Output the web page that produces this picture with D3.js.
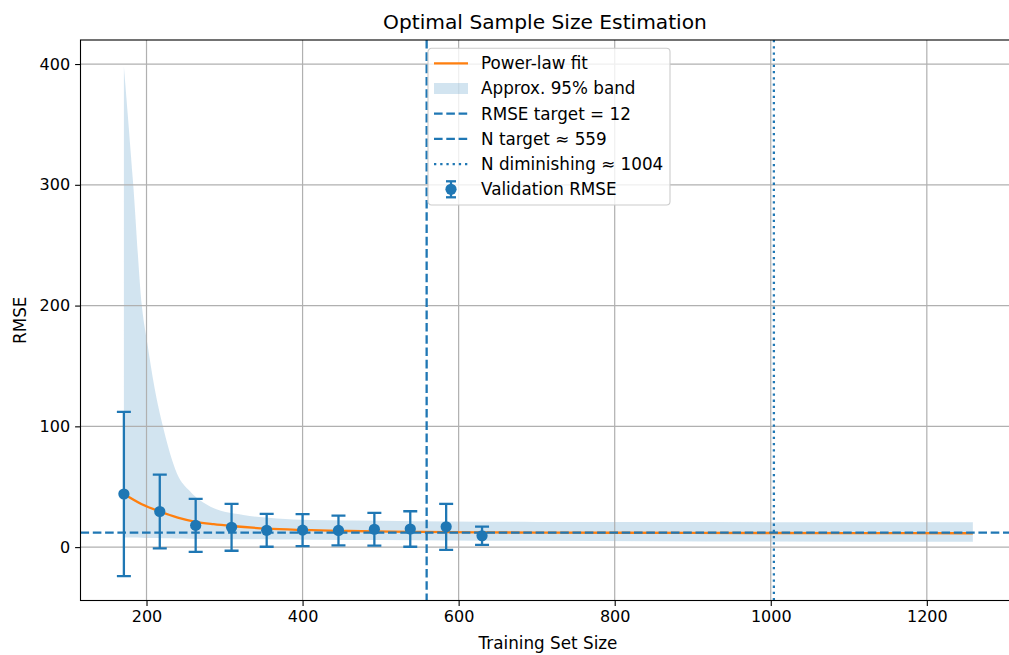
<!DOCTYPE html>
<html>
<head>
<meta charset="utf-8">
<script src="https://cdn.jsdelivr.net/npm/d3@7"></script>
<style>
  body { margin: 0; background: #fff; }
  svg { font-family: "DejaVu Sans", sans-serif; }
</style>
</head>
<body>
<svg width="1009" height="655"></svg>
<script>
// validation points
const sizes = [171, 217, 263, 309, 354, 400, 446, 492, 538, 584, 630]
const rmse = [44, 29.5, 18, 16.4, 13.9, 14.1, 13.8, 14.8, 15, 16.8, 9.4]
const rmseErr = [68, 30.5, 22, 19.4, 13.6, 13.3, 12.3, 13.5, 14.7, 19, 7.5]

// power-law fit
const fitX = [171, 194, 217, 240, 263, 286, 309, 354, 400, 446, 492, 538, 584, 630, 700, 800, 900, 1000, 1100, 1259]
const fitY = [44, 35.5, 29.5, 24.5, 21, 19, 17.5, 15.3, 14.2, 13.5, 13, 12.7, 12.4, 12.2, 12, 11.9, 11.8, 11.7, 11.6, 11.5]

// approx 95% band
const bandX = [171, 183, 194, 201, 210, 221, 239, 256, 282, 324, 367, 410, 500, 589, 700, 850, 1000, 1259]
const bandUpper = [398, 300, 200, 169, 133, 100, 61, 46, 33.5, 26.6, 23.8, 22.5, 21.8, 21.2, 20.9, 20.7, 20.6, 20.5]
const bandLower = [8, 8, 7.8, 7.6, 7.5, 7.4, 7.2, 7, 6.8, 6.6, 6.4, 6.2, 5.9, 5.5, 5.2, 4.9, 4.7, 4.5]

const rmseTarget = 12
const nTarget = 559
const nDiminishing = 1004

const xTicks = [200, 400, 600, 800, 1000, 1200]
const yTicks = [0, 100, 200, 300, 400]
const legendLabels = ['Power-law fit', 'Approx. 95% band', 'RMSE target = 12', 'N target \u2248 559', 'N diminishing \u2248 1004', 'Validation RMSE']

const blue = '#1f77b4'
const orange = '#ff7f0e'
const width = 1009
const height = 655

const margin = {
  top: 40,
  bottom: 54.5,
  left: 80.5,
  right: -6 // right spine sits just off the canvas
}
const innerWidth = width - margin.left - margin.right
const innerHeight = height - margin.top - margin.bottom

const svg = d3.select('svg')

const g = svg.append('g')
  .attr('transform', `translate(${margin.left},${margin.top})`)

const xScale = d3.scaleLinear()
  .domain([115.4, 1313])
  .range([0, innerWidth])

const yScale = d3.scaleLinear()
  .domain([-44.2, 419.9])
  .range([innerHeight, 0])

g.append('clipPath').attr('id', 'plotclip')
  .append('rect')
  .attr('width', innerWidth)
  .attr('height', innerHeight)

const plot = g.append('g').attr('clip-path', 'url(#plotclip)')

// band first, grid goes over it like matplotlib
const bandData = bandX.map((x, i) => ({ x: x, lo: bandLower[i], hi: bandUpper[i] }))
plot.append('path')
  .datum(bandData)
  .attr('fill', blue)
  .attr('fill-opacity', 0.2)
  .attr('d', d3.area()
    .x(d => xScale(d.x))
    .y0(d => yScale(d.lo))
    .y1(d => yScale(d.hi))
    .curve(d3.curveMonotoneX))

// grid
const gridG = plot.append('g')
  .attr('stroke', '#b0b0b0')
  .attr('stroke-width', 1.2)
gridG.selectAll('.vgrid')
  .data(xTicks)
  .enter().append('line')
  .attr('x1', d => xScale(d)).attr('x2', d => xScale(d))
  .attr('y1', 0).attr('y2', innerHeight)
gridG.selectAll('.hgrid')
  .data(yTicks)
  .enter().append('line')
  .attr('x1', 0).attr('x2', innerWidth)
  .attr('y1', d => yScale(d)).attr('y2', d => yScale(d))

// fit curve
const fitData = fitX.map((x, i) => ({ x: x, y: fitY[i] }))
plot.append('path')
  .datum(fitData)
  .attr('fill', 'none')
  .attr('stroke', orange)
  .attr('stroke-width', 2.3)
  .attr('d', d3.line()
    .x(d => xScale(d.x))
    .y(d => yScale(d.y))
    .curve(d3.curveMonotoneX))

// reference lines
plot.append('line')
  .attr('x1', 0).attr('x2', innerWidth)
  .attr('y1', yScale(rmseTarget)).attr('y2', yScale(rmseTarget))
  .attr('stroke', blue).attr('stroke-width', 2.3)
  .attr('stroke-dasharray', '8.6,3.7')

plot.append('line')
  .attr('x1', xScale(nTarget)).attr('x2', xScale(nTarget))
  .attr('y1', 0).attr('y2', innerHeight)
  .attr('stroke', blue).attr('stroke-width', 2.3)
  .attr('stroke-dasharray', '8.6,3.7')

plot.append('line')
  .attr('x1', xScale(nDiminishing)).attr('x2', xScale(nDiminishing))
  .attr('y1', 0).attr('y2', innerHeight)
  .attr('stroke', blue).attr('stroke-width', 2.3)
  .attr('stroke-dasharray', '2.3,3.9')

// error bars
const pts = sizes.map((x, i) => ({ x: x, y: rmse[i], e: rmseErr[i] }))
const errG = plot.append('g')
  .attr('stroke', blue)
  .attr('stroke-width', 2.3)

errG.selectAll('.bar')
  .data(pts)
  .enter().append('line')
  .attr('x1', d => xScale(d.x)).attr('x2', d => xScale(d.x))
  .attr('y1', d => yScale(d.y - d.e)).attr('y2', d => yScale(d.y + d.e))

errG.selectAll('.capTop')
  .data(pts)
  .enter().append('line')
  .attr('x1', d => xScale(d.x) - 7).attr('x2', d => xScale(d.x) + 7)
  .attr('y1', d => yScale(d.y + d.e)).attr('y2', d => yScale(d.y + d.e))

errG.selectAll('.capBottom')
  .data(pts)
  .enter().append('line')
  .attr('x1', d => xScale(d.x) - 7).attr('x2', d => xScale(d.x) + 7)
  .attr('y1', d => yScale(d.y - d.e)).attr('y2', d => yScale(d.y - d.e))

plot.selectAll('circle')
  .data(pts)
  .enter().append('circle')
  .attr('cx', d => xScale(d.x))
  .attr('cy', d => yScale(d.y))
  .attr('r', 5.6)
  .attr('fill', blue)

// axes with ticks
const xAxisG = g.append('g')
  .attr('transform', `translate(0,${innerHeight})`)
  .call(d3.axisBottom(xScale).tickValues(xTicks).tickFormat(d3.format('d'))
    .tickSizeInner(5.4).tickSizeOuter(0).tickPadding(5))
const yAxisG = g.append('g')
  .call(d3.axisLeft(yScale).tickValues(yTicks).tickFormat(d3.format('d'))
    .tickSizeInner(5.4).tickSizeOuter(0).tickPadding(5))

xAxisG.select('.domain').remove()
yAxisG.select('.domain').remove()
xAxisG.selectAll('.tick line').attr('stroke', '#000').attr('stroke-width', 1.1)
yAxisG.selectAll('.tick line').attr('stroke', '#000').attr('stroke-width', 1.1)
xAxisG.selectAll('text').attr('font-size', '16px').attr('fill', '#000').attr('font-family', 'DejaVu Sans')
yAxisG.selectAll('text').attr('font-size', '16px').attr('fill', '#000').attr('font-family', 'DejaVu Sans')

// spines
g.append('rect')
  .attr('width', innerWidth)
  .attr('height', innerHeight)
  .attr('fill', 'none')
  .attr('stroke', '#000')
  .attr('stroke-width', 1.1)

// labels
svg.append('text')
  .attr('x', 545)
  .attr('y', 29)
  .attr('text-anchor', 'middle')
  .attr('font-size', '20.2px')
  .text('Optimal Sample Size Estimation')

svg.append('text')
  .attr('x', 548)
  .attr('y', 649)
  .attr('text-anchor', 'middle')
  .attr('font-size', '16.8px')
  .text('Training Set Size')

svg.append('text')
  .attr('transform', `translate(26,${margin.top + innerHeight / 2}) rotate(-90)`)
  .attr('text-anchor', 'middle')
  .attr('font-size', '16.8px')
  .text('RMSE')

// legend
const legend = svg.append('g').attr('transform', 'translate(428,48.3)')
legend.append('rect')
  .attr('width', 242)
  .attr('height', 156.7)
  .attr('rx', 3.5)
  .attr('fill', '#fff')
  .attr('fill-opacity', 0.8)
  .attr('stroke', '#cccccc')
  .attr('stroke-width', 1.1)

const rowY = i => 15 + i * 25.2
const hx0 = 6
const hx1 = 40

legend.append('line')
  .attr('x1', hx0).attr('x2', hx1).attr('y1', rowY(0)).attr('y2', rowY(0))
  .attr('stroke', orange).attr('stroke-width', 2.3)
legend.append('rect')
  .attr('x', hx0).attr('y', rowY(1) - 5.5)
  .attr('width', hx1 - hx0).attr('height', 11)
  .attr('fill', blue).attr('fill-opacity', 0.2)
legend.append('line')
  .attr('x1', hx0).attr('x2', hx1).attr('y1', rowY(2)).attr('y2', rowY(2))
  .attr('stroke', blue).attr('stroke-width', 2.3).attr('stroke-dasharray', '8.6,3.7')
legend.append('line')
  .attr('x1', hx0).attr('x2', hx1).attr('y1', rowY(3)).attr('y2', rowY(3))
  .attr('stroke', blue).attr('stroke-width', 2.3).attr('stroke-dasharray', '8.6,3.7')
legend.append('line')
  .attr('x1', hx0).attr('x2', hx1).attr('y1', rowY(4)).attr('y2', rowY(4))
  .attr('stroke', blue).attr('stroke-width', 2.3).attr('stroke-dasharray', '2.3,3.9')

const ex = (hx0 + hx1) / 2
const eb = legend.append('g').attr('stroke', blue).attr('stroke-width', 2.3)
eb.append('line').attr('x1', ex).attr('x2', ex).attr('y1', rowY(5) - 8).attr('y2', rowY(5) + 8)
eb.append('line').attr('x1', ex - 5).attr('x2', ex + 5).attr('y1', rowY(5) - 8).attr('y2', rowY(5) - 8)
eb.append('line').attr('x1', ex - 5).attr('x2', ex + 5).attr('y1', rowY(5) + 8).attr('y2', rowY(5) + 8)
legend.append('circle').attr('cx', ex).attr('cy', rowY(5)).attr('r', 5.6).attr('fill', blue)

legend.selectAll('.lbl')
  .data(legendLabels)
  .enter().append('text')
  .attr('x', 53)
  .attr('y', (d, i) => rowY(i))
  .attr('dy', '0.35em')
  .attr('font-size', '16.8px')
  .text(d => d)
</script>
</body>
</html>
